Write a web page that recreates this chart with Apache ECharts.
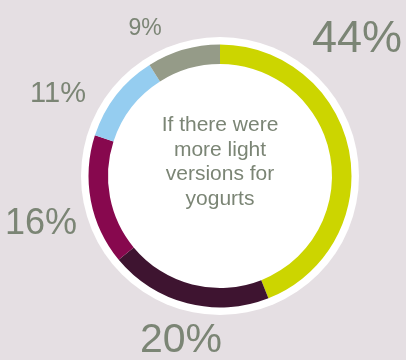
<!DOCTYPE html>
<html>
<head>
<meta charset="utf-8">
<style>
  html, body { margin: 0; padding: 0; background: #e5dfe3; }
  #chart { width: 406px; height: 360px; }
</style>
<script src="https://cdn.jsdelivr.net/npm/echarts@6/dist/echarts.min.js"></script>
</head>
<body>
<div id="chart"></div>
<script>
// Share of answers, clockwise from 12 o'clock
const categories = ['A', 'B', 'C', 'D', 'E'];
const shares = [44, 20, 16, 11, 9];
const centerTitle = 'If there were\nmore light\nversions for\nyogurts';

const colors = ['#ccd500', '#3e1430', '#87084e', '#95cdf0', '#959b88'];
// label placement and size for each slice
const labelSpots = [
  { x: 357, y: 40, size: 45 },
  { x: 181, y: 341, size: 41 },
  { x: 41, y: 224, size: 36 },
  { x: 58, y: 94, size: 29 },
  { x: 145, y: 29, size: 23 }
];
const textColor = '#7b8575';
const center = [220, 176];

const chart = echarts.init(document.getElementById('chart'), null, { renderer: 'canvas' });
chart.setOption({
  backgroundColor: '#e5dfe3',
  animation: false,
  graphic: [
    {
      type: 'text',
      x: center[0],
      y: 113,
      z: 10,
      silent: true,
      style: {
        text: centerTitle,
        align: 'center',
        verticalAlign: 'top',
        fill: textColor,
        fontFamily: 'Liberation Sans, Arial, sans-serif',
        fontSize: 21,
        lineHeight: 24.5
      }
    }
  ],
  series: [
    {
      type: 'pie',
      silent: true,
      center: center,
      radius: [0, 139],
      label: { show: false },
      labelLine: { show: false },
      itemStyle: { color: '#ffffff' },
      emphasis: { disabled: true },
      data: [{ value: 1, name: 'bg' }]
    },
    {
      type: 'pie',
      silent: true,
      center: center,
      radius: [112, 131.5],
      startAngle: 90,
      clockwise: true,
      avoidLabelOverlap: false,
      itemStyle: { borderWidth: 0 },
      label: {
        show: true,
        formatter: '{c}%',
        color: textColor,
        fontFamily: 'Liberation Sans, Arial, sans-serif'
      },
      labelLine: { show: false },
      labelLayout: function (p) {
        const s = labelSpots[p.dataIndex];
        return { x: s.x, y: s.y, align: 'center', verticalAlign: 'middle' };
      },
      data: categories.map((c, i) => ({
        name: c,
        value: shares[i],
        itemStyle: { color: colors[i] },
        label: { fontSize: labelSpots[i].size }
      }))
    }
  ]
});
</script>
</body>
</html>
